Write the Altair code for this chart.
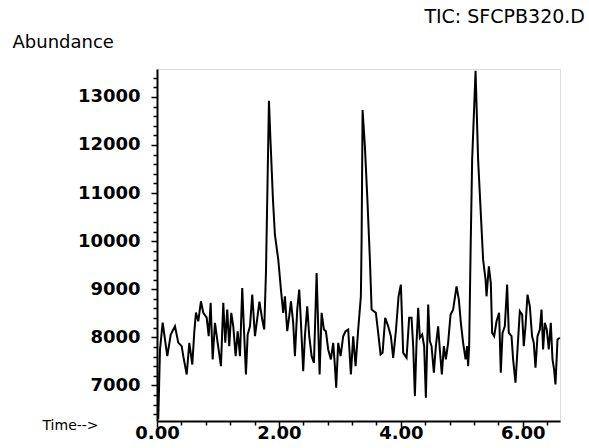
import altair as alt
import pandas as pd

# Retention time (min) and abundance
time_min = [
    0.021, 0.049, 0.093, 0.169, 0.225, 0.295, 0.349, 0.405, 0.431, 0.487,
    0.530, 0.579, 0.611, 0.639, 0.677, 0.721, 0.759, 0.815, 0.848, 0.880,
    0.913, 0.951, 0.995, 1.049, 1.087, 1.120, 1.152, 1.185, 1.218, 1.251,
    1.290, 1.323, 1.361, 1.398, 1.431, 1.459, 1.487, 1.525, 1.562, 1.607,
    1.680, 1.726, 1.759, 1.787, 1.811, 1.836, 1.861, 1.902, 1.934, 1.989,
    2.033, 2.070, 2.098, 2.136, 2.169, 2.197, 2.234, 2.262, 2.300, 2.333,
    2.361, 2.398, 2.426, 2.464, 2.497, 2.536, 2.574, 2.618, 2.644, 2.667,
    2.700, 2.738, 2.770, 2.808, 2.852, 2.890, 2.918, 2.939, 2.972, 3.011,
    3.054, 3.093, 3.136, 3.180, 3.218, 3.257, 3.300, 3.344, 3.356, 3.372,
    3.410, 3.451, 3.492, 3.520, 3.590, 3.628, 3.667, 3.700, 3.743, 3.792,
    3.836, 3.874, 3.918, 3.962, 4.000, 4.038, 4.093, 4.136, 4.175, 4.202,
    4.230, 4.257, 4.284, 4.311, 4.349, 4.382, 4.410, 4.448, 4.475, 4.503,
    4.541, 4.574, 4.611, 4.639, 4.672, 4.705, 4.738, 4.775, 4.815, 4.857,
    4.913, 4.951, 4.984, 5.021, 5.061, 5.087, 5.103, 5.120, 5.143, 5.169,
    5.225, 5.267, 5.349, 5.389, 5.405, 5.443, 5.475, 5.497, 5.530, 5.569,
    5.611, 5.639, 5.667, 5.705, 5.743, 5.770, 5.815, 5.841, 5.880, 5.913,
    5.951, 5.989, 6.016, 6.044, 6.077, 6.115, 6.152, 6.180, 6.208, 6.241,
    6.279, 6.307, 6.333, 6.361, 6.393, 6.426, 6.459, 6.487, 6.513, 6.536,
    6.569, 6.607,
]
abundance = [
    6295, 7747, 8307, 7608, 8058, 8230, 7890, 7816, 7608, 7228,
    7886, 7435, 8100, 8515, 8334, 8750, 8510, 8411, 8023, 8716,
    7540, 8300, 7886, 7400, 8716, 7886, 8577, 7816, 8510, 8230,
    7608, 8127, 7608, 9027, 8023, 7228, 8058, 8230, 8888, 8023,
    8740, 8370, 8162, 9345, 11067, 12920, 12105, 10860, 10133, 9615,
    8992, 8510, 8853, 8127, 8438, 8750, 8300, 7608, 8577, 8992,
    8300, 7297, 8023, 8646, 8023, 7608, 7470, 9338, 8230, 7228,
    8510, 8162, 8127, 7747, 7540, 7886, 7400, 6952, 7886, 7608,
    8023, 8127, 8162, 7228, 8023, 7400, 8162, 8853, 10030, 12727,
    11966, 10860, 9615, 8577, 8510, 8093, 7643, 7678, 8405, 8230,
    8023, 7574, 8127, 8853, 9096, 7678, 7574, 8405, 8405, 7816,
    6778, 7886, 8612, 7990, 8058, 7816, 6744, 8681, 7920, 7816,
    7263, 7816, 8230, 7747, 7228, 7816, 7540, 7886, 8473, 8577,
    9060, 8785, 8300, 7886, 7540, 7816, 7400, 7816, 9760, 11690,
    13543, 11690, 9615, 9200, 8853, 9475, 9131, 8093, 8023, 8334,
    8510, 7263, 8093, 8230, 9096, 8093, 8023, 7540, 7056, 7747,
    8542, 8473, 7816, 8230, 8888, 8646, 8023, 7886, 7367, 8023,
    8162, 8577, 7747, 8300, 8162, 7747, 8300, 7540, 7332, 7021,
    7955, 7990,
]

x_ticks = [0.0, 0.4, 0.8, 1.2, 1.6, 2.0, 2.4, 2.8, 3.2, 3.6, 4.0,
           4.4, 4.8, 5.2, 5.6, 6.0, 6.4]
y_ticks = [6400, 6600, 6800, 7000, 7200, 7400, 7600, 7800, 8000, 8200,
           8400, 8600, 8800, 9000, 9200, 9400, 9600, 9800, 10000, 10200,
           10400, 10600, 10800, 11000, 11200, 11400, 11600, 11800, 12000,
           12200, 12400, 12600, 12800, 13000, 13200, 13400]

chart_title = ["TIC: SFCPB320.D"]
y_title = "Abundance"
x_title = "Time-->"

df = pd.DataFrame({"t": time_min, "v": abundance})

FONT = "DejaVu Sans"

x_major = "abs(datum.value/2 - round(datum.value/2)) < 0.001"
y_major = "abs(datum.value/1000 - round(datum.value/1000)) < 0.001"

line = alt.Chart(df).mark_line(color="black", strokeWidth=2).encode(
    x=alt.X(
        "t:Q",
        scale=alt.Scale(domain=[0, 6.61], nice=False, zero=False),
        axis=alt.Axis(
            values=x_ticks,
            labelExpr=f"{x_major} ? format(datum.value, '.2f') : ''",
            tickSize={"condition": {"test": x_major, "value": 6}, "value": 4},
            tickColor="black",
            tickWidth=1.5,
            domainColor="black",
            domainWidth=2,
            grid=False,
            labelFont=FONT,
            labelFontWeight="bold",
            labelFontSize=18,
            labelColor="black",
            labelPadding=-3,
            labelFlush=False,
            labelOverlap=False,
            title=x_title,
            titleFont=FONT,
            titleFontSize=14,
            titleFontWeight="normal",
            titleColor="black",
            titleAnchor="start",
            titleAlign="left",
            titleBaseline="middle",
            titleX=-115,
            titleY=4,
        ),
    ),
    y=alt.Y(
        "v:Q",
        scale=alt.Scale(domain=[6260, 13580], nice=False, zero=False),
        axis=alt.Axis(
            values=y_ticks,
            labelExpr=f"{y_major} ? format(datum.value, 'd') : ''",
            tickSize={"condition": {"test": y_major, "value": 6}, "value": 4},
            tickColor="black",
            tickWidth=1.5,
            domainColor="black",
            domainWidth=2,
            grid=False,
            labelFont=FONT,
            labelFontWeight="bold",
            labelFontSize=18,
            labelColor="black",
            labelPadding=11,
            labelFlush=False,
            labelOverlap=False,
            title=y_title,
            titleFont=FONT,
            titleFontSize=18,
            titleFontWeight="normal",
            titleColor="black",
            titleAngle=0,
            titleAlign="left",
            titleBaseline="middle",
            titleX=-145,
            titleY=-27,
        ),
    ),
)

title_text = alt.Chart(pd.DataFrame({"label": chart_title})).mark_text(
    font=FONT, fontSize=19, color="black", align="right", baseline="middle"
).encode(
    x=alt.value(428),
    y=alt.value(-52),
    text="label:N",
)

chart = alt.layer(line, title_text).properties(
    width=403,
    height=352,
    autosize=alt.AutoSizeParams(type="none"),
    padding={"left": 157, "top": 69, "right": 29, "bottom": 27},
).configure_view(stroke=None).configure(background="white")

chart.save("out.html", embed_options={"renderer": "svg", "actions": False})
